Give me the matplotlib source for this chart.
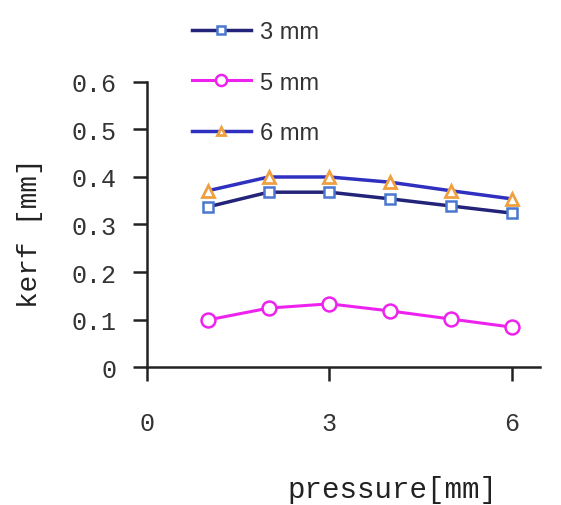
import matplotlib
matplotlib.use("Agg")
import matplotlib.pyplot as plt

# kerf width versus pressure for three nozzle distances
pressure = [1, 2, 3, 4, 5, 6]
kerf_3mm = [0.337, 0.368, 0.368, 0.354, 0.339, 0.324]
kerf_5mm = [0.099, 0.124, 0.133, 0.118, 0.101, 0.084]
kerf_6mm = [0.371, 0.400, 0.400, 0.389, 0.371, 0.354]
labels = ["3 mm", "5 mm", "6 mm"]
xticks = [0, 3, 6]
yticks = [0, 0.1, 0.2, 0.3, 0.4, 0.5, 0.6]

fig = plt.figure(figsize=(5.61, 5.06), dpi=100)
ax = fig.add_axes([0.262, 0.2727, 0.70, 0.5633])

ax.plot(pressure, kerf_3mm, color="#23237a", lw=2.5, marker="s", ms=7,
        mfc="white", mec="#4a78d0", mew=1.8, label=labels[0])
ax.plot(pressure, kerf_5mm, color="#ee22ee", lw=2.2, marker="o", ms=10,
        mfc="white", mec="#ee22ee", mew=1.8, label=labels[1])
ax.plot(pressure, kerf_6mm, color="#3030c0", lw=2.5, marker="^", ms=8,
        mfc="white", mec="#f0a040", mew=2.0, label=labels[2])

ax.set_xlim(0, 6.46)
ax.set_ylim(0, 0.6)
ax.set_xticks(xticks)
ax.set_yticks(yticks)
ax.set_yticklabels(["0" if v == 0 else f"{v:.1f}" for v in yticks])
for s in ("top", "right"):
    ax.spines[s].set_visible(False)
for s in ("left", "bottom"):
    ax.spines[s].set_linewidth(1.8)
    ax.spines[s].set_color("#222222")

mono = "Liberation Mono"
ax.tick_params(axis="both", direction="out", length=10, width=1.8,
               colors="#222222", labelcolor="#333333")
ax.tick_params(axis="x", pad=22)
ax.tick_params(axis="y", pad=12)
for t in ax.get_xticklabels() + ax.get_yticklabels():
    t.set_fontfamily(mono)
    t.set_fontsize(18)

fig.text(0.053, 0.54, "kerf [mm]", rotation=90, ha="center", va="center",
         fontfamily=mono, fontsize=20, color="#222222")
fig.text(0.699, 0.032, "pressure[mm]", ha="center", va="center",
         fontfamily=mono, fontsize=21, color="#222222")

leg = fig.legend(loc="upper left", bbox_to_anchor=(0.342, 0.956),
                 frameon=False, borderpad=0, borderaxespad=0,
                 handlelength=2.5, handletextpad=0.4, labelspacing=1.2,
                 markerscale=0.8,
                 prop={"family": "Liberation Sans", "size": 17})
for t in leg.get_texts():
    t.set_color("#333333")

fig.savefig("out.png", dpi=100)
